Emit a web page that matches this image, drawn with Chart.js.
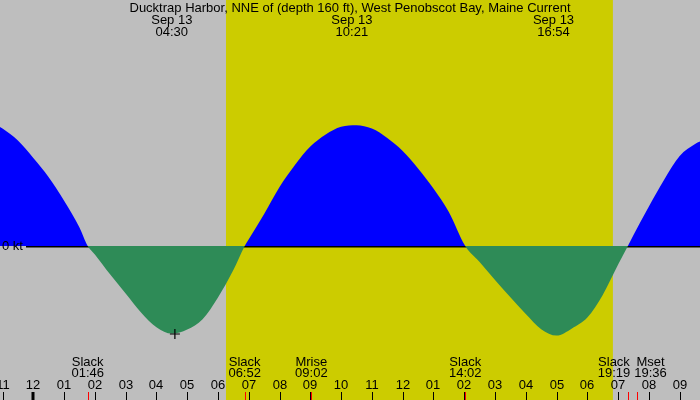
<!DOCTYPE html>
<html lang="en">
<head>
  <meta charset="UTF-8" />
  <title>Ducktrap Harbor Current</title>
  <script src="https://cdn.jsdelivr.net/npm/chart.js"></script>
  <style>
    html, body { margin: 0; padding: 0; background: #bebebe; }
    #wrap { width: 700px; height: 400px; position: relative; }
  </style>
</head>
<body>
  <div id="wrap"><canvas id="chart" width="700" height="400"></canvas></div>

  <script>
    // time in hours from midnight Sep 13, speed in knots (flood +, ebb -)
    const times = [
      -1.082, -1.0, -0.5, 0.0, 0.5, 1.0, 1.5, 1.767,
      2.0, 2.5, 3.0, 3.5, 4.0, 4.5, 5.0, 5.5, 6.0, 6.5, 6.867,
      7.0, 7.5, 8.0, 8.5, 9.0, 9.5, 10.0, 10.5, 11.0, 11.5, 12.0, 12.5, 13.0, 13.5, 14.033,
      14.5, 15.0, 15.5, 16.0, 16.5, 17.0, 17.5, 18.0, 18.5, 19.0, 19.317,
      19.5, 20.0, 20.5, 21.0, 21.5, 21.66
    ];
    const speeds = [
      0.595, 0.587, 0.527, 0.44, 0.344, 0.226, 0.092, 0,
      -0.042, -0.143, -0.238, -0.332, -0.406, -0.438, -0.418, -0.366, -0.257, -0.12, 0,
      0.034, 0.16, 0.295, 0.405, 0.497, 0.558, 0.596, 0.604, 0.587, 0.54, 0.475, 0.388, 0.287, 0.17, 0,
      -0.08, -0.17, -0.256, -0.34, -0.416, -0.448, -0.412, -0.358, -0.245, -0.093, 0,
      0.055, 0.198, 0.333, 0.45, 0.51, 0.522
    ];

    const title = 'Ducktrap Harbor, NNE of (depth 160 ft), West Penobscot Bay, Maine Current';
    const dateLabel = 'Sep 13';
    const peakTimes = [4.5, 10.35, 16.9];
    const peakLabels = ['04:30', '10:21', '16:54'];
    const markTime = 4.6, markSpeed = -0.44;

    const eventTimes = [1.767, 6.867, 9.033, 14.033, 19.317, 19.6];
    const eventNames = ['Slack', 'Slack', 'Mrise', 'Slack', 'Slack', 'Mset'];
    const eventLabels = ['01:46', '06:52', '09:02', '14:02', '19:19', '19:36'];

    const sunrise = 6.26, sunset = 18.83;
    const hourTicks = [-1, 0, 1, 2, 3, 4, 5, 6, 7, 8, 9, 10, 11, 12, 13, 14, 15, 16, 17, 18, 19, 20, 21];
    const hourLabels = ['11', '12', '01', '02', '03', '04', '05', '06', '07', '08', '09', '10',
                        '11', '12', '01', '02', '03', '04', '05', '06', '07', '08', '09'];

    const FONT = '13px "Liberation Sans", Arial, sans-serif';

    const backdrop = {
      id: 'backdrop',
      beforeDraw(chart) {
        const { ctx, width, height } = chart;
        const x = chart.scales.x;
        ctx.save();
        ctx.fillStyle = '#bebebe';
        ctx.fillRect(0, 0, width, height);
        ctx.fillStyle = '#cccc00';
        const x0 = x.getPixelForValue(sunrise), x1 = x.getPixelForValue(sunset);
        ctx.fillRect(x0, 0, x1 - x0, height);
        ctx.restore();
      },
      beforeDatasetsDraw(chart) {
        // zero line, the ebb fill covers it
        const { ctx, width } = chart;
        const y0 = chart.scales.y.getPixelForValue(0);
        ctx.save();
        ctx.fillStyle = '#000';
        ctx.fillRect(26, y0, width - 26, 1.5);
        ctx.restore();
      },
      afterDraw(chart) {
        const { ctx, width } = chart;
        const x = chart.scales.x, y = chart.scales.y;
        ctx.save();
        ctx.font = FONT;
        ctx.fillStyle = '#000';
        ctx.textBaseline = 'middle';
        ctx.textAlign = 'center';
        ctx.fillText(title, width / 2, 8);

        peakTimes.forEach((t, i) => {
          const px = x.getPixelForValue(t);
          ctx.fillText(dateLabel, px, 20);
          ctx.fillText(peakLabels[i], px, 32);
        });

        ctx.textAlign = 'left';
        ctx.fillText('0 kt', 2, y.getPixelForValue(0));
        ctx.textAlign = 'center';

        // event labels, pushed apart when they collide
        const cx = eventTimes.map(t => x.getPixelForValue(t));
        const w = eventLabels.map((s, i) => Math.max(ctx.measureText(s).width, ctx.measureText(eventNames[i]).width));
        for (let i = 1; i < cx.length; i++) {
          const need = (w[i - 1] + w[i]) / 2 + 4;
          if (cx[i] - cx[i - 1] < need) {
            const mid = (cx[i] + cx[i - 1]) / 2;
            cx[i - 1] = mid - need / 2;
            cx[i] = mid + need / 2;
          }
        }
        cx.forEach((px, i) => {
          ctx.fillText(eventNames[i], px, 362);
          ctx.fillText(eventLabels[i], px, 373);
        });

        hourTicks.forEach((h, i) => {
          const px = Math.round(x.getPixelForValue(h));
          ctx.fillStyle = '#000';
          ctx.fillText(hourLabels[i], px, 385.5);
          if (h === 0) ctx.fillRect(px - 1.5, 392, 3, 8);
          else ctx.fillRect(px, 392, 1, 8);
        });
        ctx.fillStyle = '#ff0000';
        eventTimes.forEach(t => {
          const px = Math.round(x.getPixelForValue(t));
          ctx.fillRect(px, 392, 1, 8);
        });
        ctx.restore();
      }
    };

    const ctx = document.getElementById('chart').getContext('2d');
    new Chart(ctx, {
      type: 'line',
      data: {
        datasets: [
          {
            label: 'max ebb',
            data: [{ x: markTime, y: markSpeed }],
            showLine: false,
            pointStyle: 'cross',
            pointRadius: 5,
            borderColor: '#000',
            borderWidth: 1.2
          },
          {
            label: 'current',
            data: times.map((t, i) => ({ x: t, y: speeds[i] })),
            borderWidth: 0,
            borderColor: 'rgba(0,0,0,0)',
            pointRadius: 0,
            cubicInterpolationMode: 'monotone',
            fill: { target: { value: 0 }, above: '#0000ff', below: '#2e8b57' }
          }
        ]
      },
      options: {
        responsive: false,
        animation: false,
        events: [],
        layout: { padding: 0, autoPadding: false },
        plugins: { legend: { display: false }, tooltip: { enabled: false } },
        scales: {
          x: { type: 'linear', min: -1.082, max: 21.66, display: false },
          y: { min: -0.77, max: 1.23, display: false }
        }
      },
      plugins: [backdrop]
    });
  </script>
</body>
</html>
